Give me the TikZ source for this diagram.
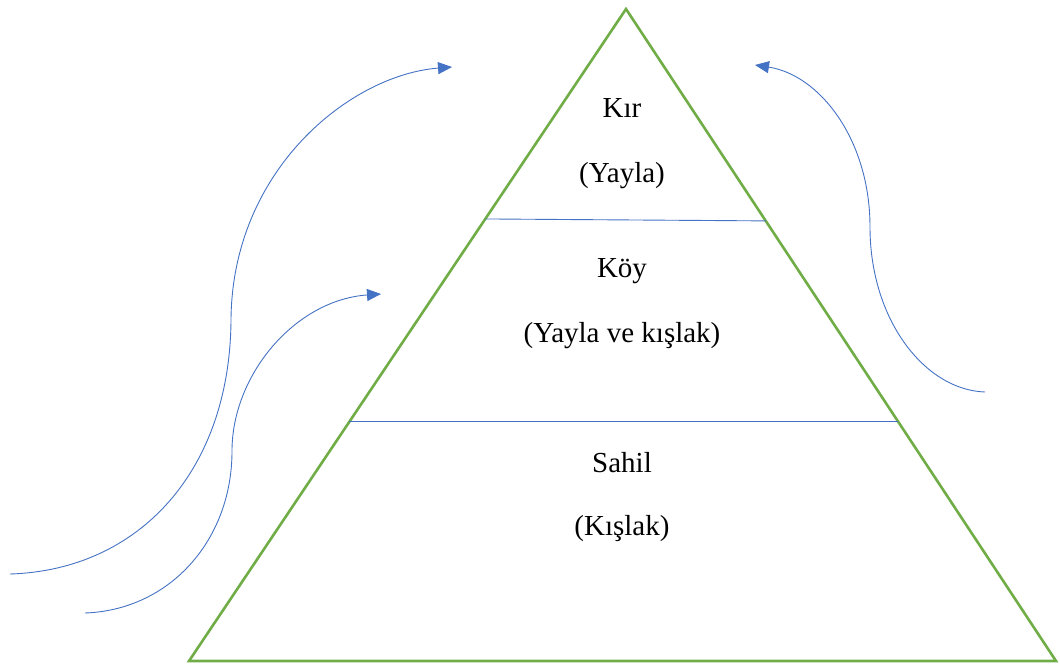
\documentclass[tikz,border=0pt]{standalone}
\usepackage{fontspec}
\setmainfont{Liberation Serif}
\usetikzlibrary{arrows.meta,calc}
\definecolor{pyrgreen}{HTML}{70AD47}
\definecolor{flowblue}{HTML}{4472C4}
\tikzset{
  pyramid/.style={draw=pyrgreen, line width=2.6pt, line join=miter},
  divider/.style={draw=flowblue, line width=0.9pt},
  flow/.style={draw=flowblue, line width=0.9pt, -{Triangle[length=14pt,width=12pt]}},
  lbl/.style={anchor=base, inner sep=0pt, font=\fontsize{29}{35}\selectfont}
}
\begin{document}
\begin{tikzpicture}[x=1pt,y=-1pt]
\useasboundingbox (0,0) rectangle (1060,664);
\coordinate (apex) at (626,9);
\coordinate (bl) at (189,661);
\coordinate (br) at (1056,661);
\draw[pyramid] (apex) -- (bl) -- (br) -- cycle;
\coordinate (d1l) at ($(apex)!0.322!(bl)$);
\coordinate (d1r) at ($(apex)!0.325!(br)$);
\coordinate (d2l) at ($(apex)!0.633!(bl)$);
\coordinate (d2r) at ($(apex)!0.633!(br)$);
\draw[divider] (d1l) -- (d1r);
\draw[divider] (d2l) -- (d2r);
\node[lbl] (kir) at (622,117) {Kır};
\node[lbl] (yayla) at (622,182) {(Yayla)};
\node[lbl] (koy) at (622,277) {Köy};
\node[lbl] (yk) at (622,342) {(Yayla ve kışlak)};
\node[lbl] (sahil) at (622,472) {Sahil};
\node[lbl] (kislak) at (622,535) {(Kışlak)};
% flows
\coordinate (a1s) at (10,574);
\coordinate (a1m) at (231,320);
\coordinate (a1e) at (452,67);
\draw[flow] (a1s) .. controls (140,570) and (230,470) .. (a1m)
  .. controls (232,170) and (350,75) .. (a1e);
\coordinate (a2s) at (85,613);
\coordinate (a2m) at (232,451);
\coordinate (a2e) at (381,294);
\draw[flow] (a2s) .. controls (170,610) and (232,540) .. (a2m)
  .. controls (232,375) and (295,300) .. (a2e);
\coordinate (a3s) at (985,392);
\coordinate (a3m) at (870,227);
\coordinate (a3e) at (755,65);
\draw[flow] (a3s) .. controls (925,390) and (870,320) .. (a3m)
  .. controls (870,140) and (820,75) .. (a3e);
\end{tikzpicture}
\end{document}
